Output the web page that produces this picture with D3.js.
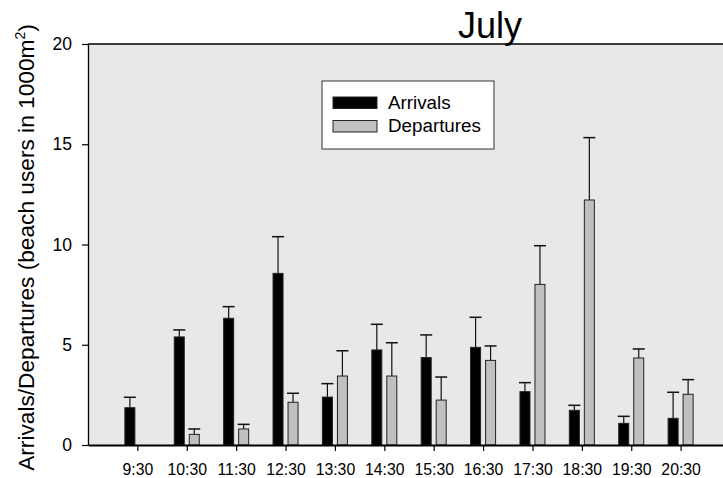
<!DOCTYPE html>
<html>
<head>
<meta charset="utf-8">
<script src="https://cdn.jsdelivr.net/npm/d3@7"></script>
<style>
	body { margin: 0; background: #fff; }
	svg { display: block; font-family: "Liberation Sans", Arial, sans-serif; }
</style>
</head>
<body>
<div id="chart"></div>
<script>
const times = ['9:30', '10:30', '11:30', '12:30', '13:30', '14:30', '15:30', '16:30', '17:30', '18:30', '19:30', '20:30'];
const arrivals = [1.86, 5.39, 6.32, 8.56, 2.39, 4.74, 4.36, 4.87, 2.66, 1.73, 1.08, 1.33];
const arrivalsErr = [0.52, 0.35, 0.58, 1.83, 0.67, 1.28, 1.13, 1.50, 0.45, 0.25, 0.35, 1.30];
const departures = [null, 0.53, 0.80, 2.13, 3.44, 3.44, 2.24, 4.22, 8.01, 12.22, 4.34, 2.53];
const departuresErr = [null, 0.27, 0.23, 0.45, 1.26, 1.66, 1.15, 0.72, 1.93, 3.11, 0.45, 0.73];
const yTicks = [0, 5, 10, 15, 20];

const width = 723;
const height = 478;
const margin = {top: 44, right: -7, bottom: 33, left: 88};

const series = [
	{label: 'Arrivals', values: arrivals, errors: arrivalsErr, color: '#000', offset: -7.5},
	{label: 'Departures', values: departures, errors: departuresErr, color: '#c0c0c0', offset: 7.5}
];

const svg = d3.select('#chart')
	.append('svg')
	.attr('width', width)
	.attr('height', height);

const x = d3.scaleLinear()
	.domain([0, times.length + 1])
	.range([margin.left, width - margin.right]);

const y = d3.scaleLinear()
	.domain([0, 20])
	.range([height - margin.bottom, margin.top]);

const barW = 10;
const capW = 12;

// plot background
svg.append('rect')
	.attr('x', x(0))
	.attr('y', y(20))
	.attr('width', x.range()[1] - x(0))
	.attr('height', y(0) - y(20))
	.attr('fill', '#e8e8e8');

svg.append('line')
	.attr('x1', x(0))
	.attr('x2', x.range()[1])
	.attr('y1', y(20))
	.attr('y2', y(20))
	.attr('stroke', '#000')
	.attr('stroke-width', 1.3);

// bars and error bars
series.forEach(s => {
	const rows = s.values
		.map((v, i) => ({v, e: s.errors[i], i}))
		.filter(d => d.v !== null);

	const g = svg.append('g').attr('class', 'series');

	g.selectAll('line.err')
		.data(rows)
		.enter()
		.append('line')
		.attr('class', 'err')
		.attr('x1', d => x(d.i + 1) + s.offset)
		.attr('x2', d => x(d.i + 1) + s.offset)
		.attr('y1', d => y(d.v))
		.attr('y2', d => y(d.v + d.e))
		.attr('stroke', '#111')
		.attr('stroke-width', 1.2);

	g.selectAll('line.cap')
		.data(rows)
		.enter()
		.append('line')
		.attr('class', 'cap')
		.attr('x1', d => x(d.i + 1) + s.offset - capW / 2)
		.attr('x2', d => x(d.i + 1) + s.offset + capW / 2)
		.attr('y1', d => y(d.v + d.e))
		.attr('y2', d => y(d.v + d.e))
		.attr('stroke', '#111')
		.attr('stroke-width', 1.5);

	g.selectAll('rect')
		.data(rows)
		.enter()
		.append('rect')
		.attr('x', d => x(d.i + 1) + s.offset - barW / 2)
		.attr('y', d => y(d.v))
		.attr('width', barW)
		.attr('height', d => y(0) - y(d.v))
		.attr('fill', s.color)
		.attr('stroke', '#222')
		.attr('stroke-width', 1);
});

// axes
svg.append('g')
	.attr('transform', `translate(${x(0)},0)`)
	.call(d3.axisLeft(y).tickValues(yTicks).tickSize(6).tickSizeOuter(0).tickPadding(10))
	.call(g => g.select('.domain').attr('stroke-width', 1.3))
	.call(g => g.selectAll('.tick line').attr('stroke-width', 1.2))
	.call(g => g.selectAll('.tick text')
		.attr('font-size', 17.5)
		.attr('font-family', '"Liberation Sans", Arial, sans-serif')
		.attr('fill', '#000'));

svg.append('g')
	.attr('transform', `translate(0,${y(0)})`)
	.call(d3.axisBottom(x)
		.tickValues(d3.range(1, times.length + 1))
		.tickFormat(d => times[d - 1])
		.tickSize(6)
		.tickSizeOuter(0)
		.tickPadding(13))
	.call(g => g.select('.domain').attr('stroke-width', 1.8))
	.call(g => g.selectAll('.tick line').attr('stroke-width', 1.2))
	.call(g => g.selectAll('.tick text')
		.attr('font-size', 15.8)
		.attr('font-family', '"Liberation Sans", Arial, sans-serif')
		.attr('fill', '#000'));

// titles
svg.append('text')
	.attr('x', 490)
	.attr('y', 38)
	.attr('text-anchor', 'middle')
	.attr('font-size', 36)
	.text('July');

svg.append('text')
	.attr('transform', 'translate(34,247.5) rotate(-90)')
	.attr('text-anchor', 'middle')
	.attr('font-size', 22.7)
	.call(t => t.append('tspan').text('Arrivals/Departures (beach users in 1000m'))
	.call(t => t.append('tspan').attr('font-size', 14).attr('dy', -9).text('2'))
	.call(t => t.append('tspan').attr('dy', 9).text(')'));

// legend
const legend = svg.append('g')
	.attr('transform', 'translate(322,81)');

legend.append('rect')
	.attr('width', 172)
	.attr('height', 68)
	.attr('fill', '#fff')
	.attr('stroke', '#333')
	.attr('stroke-width', 1);

legend.selectAll('g.item')
	.data(series)
	.enter()
	.append('g')
	.attr('class', 'item')
	.attr('transform', (d, i) => `translate(11,${16 + i * 23.5})`)
	.call(g => g.append('rect')
		.attr('width', 44)
		.attr('height', 11.5)
		.attr('fill', d => d.color)
		.attr('stroke', '#222'))
	.call(g => g.append('text')
		.attr('x', 55)
		.attr('y', 11.5)
		.attr('font-size', 18.8)
		.text(d => d.label));
</script>
</body>
</html>
